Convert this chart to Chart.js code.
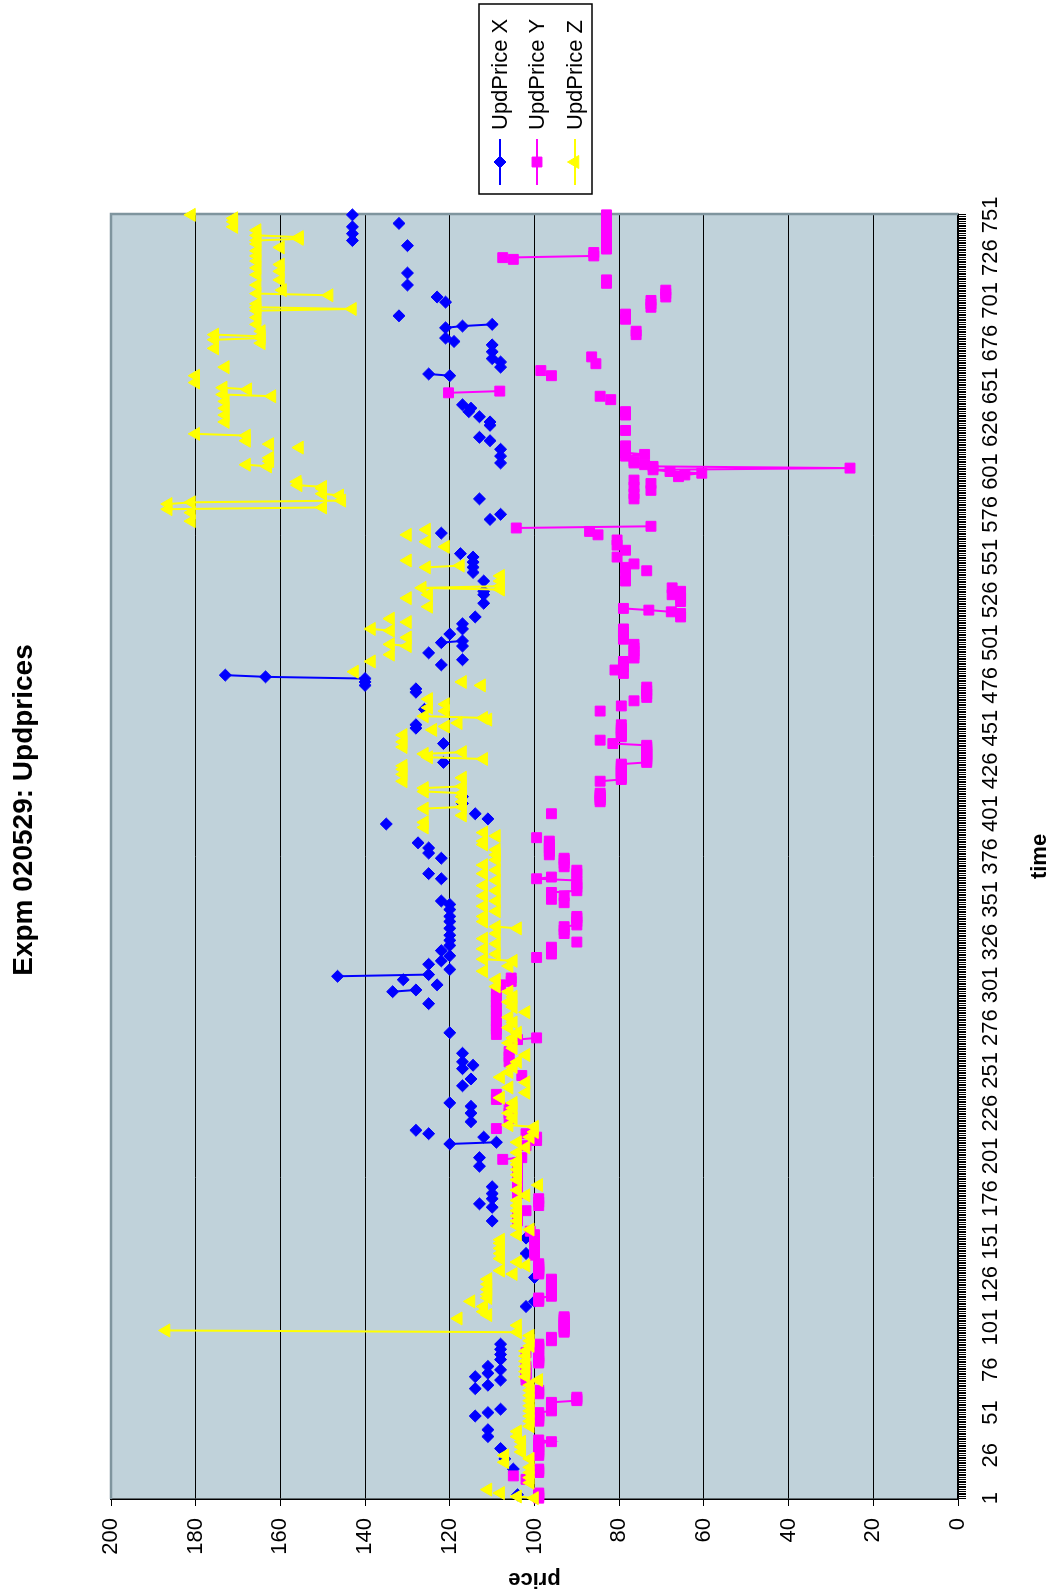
<!DOCTYPE html>
<html>
<head>
<meta charset="utf-8">
<title>Expm 020529: Updprices</title>
<script src="https://cdn.jsdelivr.net/npm/chart.js@4/dist/chart.umd.min.js"></script>
<style>
  html, body { margin: 0; padding: 0; background: #ffffff; overflow: hidden; width: 1057px; height: 1596px; }
  /* The chart is laid out landscape and turned a quarter turn counter-clockwise */
  #wrap { position: absolute; left: 0; top: 0; width: 1596px; height: 1057px;
          transform-origin: 0 0; transform: translate(0, 1596px) rotate(-90deg); }
  canvas { display: block; }
</style>
</head>
<body>
<div id="wrap"><canvas id="chart" width="1596" height="1057"></canvas></div>
<script>
// ---- data: [time step, updated price] ----
const timeTicks = [1,26,51,76,101,126,151,176,201,226,251,276,301,326,351,376,401,426,451,476,501,526,551,576,601,626,651,676,701,726,751];
const priceTicks = [0,20,40,60,80,100,120,140,160,180,200];

const updPriceX = [
[3,104],[18,105],[24,107],[30,108],[37,111],[41,111],[49,114],[51,111],[53,108],[65,114],[67,111],[70,108],[72,114],[74,111],[76,108],[78,111],[82,108],[85,108],[88,108],[91,108],
[113,102],[116,100],[130,100],[144,102],[153,102],[163,110],[171,110],[173,113],[176,110],[179,110],[183,110],[195,113],[200,113],[208,120],[209,109],[212,112],[214,125],[216,128],[221,115],[226,115],[230,115],[232,120],[242,117],[246,115],[252,117],[254,114.5],[256,117],[261,117],[273,120],[290,125],[297,133.5],[298,128],
[301,123],[304,131],[306,146.5],[307,125],[310,120],[313,125],[315,122],[318,120],[321,122],[324,120],[327,120],[330,120],[334,120],[338,120],[341,120],[345,120],[348,120],[350,122],[363,122],[366,125],[375,122],[378,125],[381,125],[384,127.5],[395,135],[398,111],
[401,114],[407,117],[411,117],[431,121.5],[442,121.5],[451,128],[453,128],[462,126],[472,128],[474,128],[476,140],[478,140],[480,140],[481,163.5],[482,173],[488,122],[491,117],[495,125],[499,117],
[501,122],[502,117],[506,120],[509,117],[512,117],[516,114],[524,112],[529,112],[531,112],[537,112],[542,114.5],[545,114.5],[548,114.5],[551,114.5],[553,117.5],[565,122],[573,110.5],[576,108],[585,113],
[606,108],[610,108],[614,108],[619,110.5],[621,113],[628,110.5],[630,110.5],[633,113],[636,115.5],[638,115],[640,117],[657,120],[658,125],[662,108],[665,108],[667,110],[671,110],[675,110],[677,119],[679,121],[685,121],[686,117],[687,110],[692,132],
[700,121],[703,123],[710,130],[717,130],[733,130],[736,143],[740,143],[744,143],[746,132],[751,143]
];

const updPriceY = [
[1,99],[2,99],[3,99],[4,99],[12,102],[14,105],[16,99],[17,99],[18,99],[26,99],[27,99],[28,99],[29,99],[31,99],[32,99],[33,99],[34,96],[35,99],[46,99],[47,99],[48,99],[49,99],[50,99],[51,99],[52,96],[53,96],[54,96],[55,96],[56,96],[57,96],[58,90],[59,90],[60,90],[62,99],[63,99],[64,99],
[70,102],[72,102],[74,102],[76,102],[78,102],[80,99],[81,99],[82,99],[83,99],[84,99],[86,102],[88,99],[89,99],[90,99],[91,99],[93,96],[94,96],[95,96],[98,93],[99,93],[100,93],[101,93],[102,93],[103,93],[104,93],[105,93],[106,93],[107,93],
[116,99],[117,99],[118,99],[119,96],[120,96],[121,96],[122,96],[123,96],[124,96],[125,96],[126,96],[127,96],[128,96],[129,96],[132,99],[133,99],[134,99],[135,99],[136,99],[137,99],[138,99],[143,100],[145,100],[147,100],[149,100],[151,100],[153,100],[155,100],[157,101],
[163,104],[166,104],[169,102],[172,99],[174,99],[176,99],[179,104],[182,104],[185,104],[188,104],[191,104],[194,104],[197,104],[199,107.5],[200,103],[207,102],[210,99.5],[212,99.5],[214,102],[217,109],[223,106],[226,106],[229,106],[234,109],[237,109],[248,103],[256,106],[259,106],[262,106],[269,104],[270,99.5],[272,109],[275,109],[277,109],[280,109],[283,109],[286,109],[289,109],[291,109],[294,109],[297,109],
[301,108],[303,105.5],[305,105.5],[317,99.5],[319,96],[321,96],[323,96],[326,90],[331,93],[333,93],[335,93],[336,90],[338,90],[340,90],[341,90],[349,93],[351,96],[353,93],[355,96],[356,90],[358,90],[360,90],[362,90],[363,99.5],[364,96],[366,90],[368,90],[370,93],[372,93],[374,93],[375,93],[377,96.5],[379,96.5],[381,96.5],[383,96.5],[385,96.5],[387,99.5],
[401,96],[408,84.5],[409,84.5],[410,84.5],[411,84.5],[412,84.5],[413,84.5],[420,84.5],[421,79.5],[422,79.5],[423,79.5],[424,79.5],[425,79.5],[426,79.5],[427,79.5],[428,79.5],[429,79.5],[430,79.5],[431,73.5],[432,73.5],[433,73.5],[434,73.5],[435,73.5],[436,73.5],[437,73.5],[438,73.5],[439,73.5],[440,73.5],[441,73.5],[442,81.5],[444,84.5],[446,79.5],[447,79.5],[448,79.5],[449,79.5],[450,79.5],[451,79.5],[453,79.5],[461,84.5],[464,79.5],[467,76.5],[469,73.5],[471,73.5],[473,73.5],[475,73.5],[483,79],[485,81],[487,79],[490,79],[492,76.5],[494,76.5],[496,76.5],[498,76.5],[500,76.5],
[503,79],[505,79],[507,79],[509,79],[516,65.5],[518,65.5],[519,67.7],[520,73],[521,79],[525,65.5],[527,65.5],[529,67.5],[531,65.5],[533,67.5],[537,78.5],[541,78.5],[543,73.5],[545,78.5],[547,76.5],[551,80.5],[555,78.5],[558,80.5],[561,80.5],[564,85],[566,87],[568,104.3],[569,72.5],[585,76.5],[588,76.5],[590,72.5],[592,76.5],[594,72.5],[596,76.5],[598,66],[599,64.5],[600,60.5],
[601,68],[602,72],[603,25.5],[604,72],[605,74],[606,76.5],[607,76.5],[610,78.5],[611,74],[612,78.5],[614,78.5],[616,78.5],[625,78.5],[634,78.5],[636,78.5],[643,82],[645,84.5],[647,120.3],[648,108.2],[657,96],[660,98.5],[664,85.5],[668,86.5],[681,76],[683,76],[690,78.5],[693,78.5],[697,72.5],[699,72.5],
[701,72.5],[703,69],[705,69],[707,69],[711,83],[713,83],[725,105],[726,107.5],[727,86],[729,86],[731,83],[733,83],[736,83],[738,83],[740,83],[745,83],[747,83],[749,83],[751,83]
];

const updPriceZ = [
[1,100],[2,104],[4,108],[6,111],[10,101],[13,101],[16,101],[19,101],[22,107],[24,101],[26,107],[28,103],[31,103],[34,103],[37,104],[40,104],[43,101],[46,101],[49,101],[52,101],[55,101],[58,101],[61,101],[64,101],[67,101],[70,99],[72,102],[75,102],[78,102],[81,102],[84,102],[87,102],[90,101],[93,101],[96,101],[98,104],[99,187],
[102,104],[106,118],[108,111],[110,112],[113,112],[116,115],[118,111],[120,111],[123,111],[126,111],[129,111],[132,105],[134,108],[137,102],[139,104],[141,108],[144,108],[147,108],[150,108],[152,108],[155,104],[158,101],[160,104],[163,104],[166,104],[169,104],[172,104],[175,104],[178,102],[181,104],[184,99],[187,104],[190,104],[193,104],[196,104],[198,104],
[203,104],[206,102],[209,104],[212,101],[215,100],[218,100],[219,106],[223,105],[226,106],[229,105],[232,105],[235,108],[238,102],[241,106],[244,102],[247,108],[250,106],[253,105],[256,104],[260,102],[264,105],[267,106],[270,105],[273,104],[276,106],[279,105],[282,106],[285,102],[288,105],[291,106],[294,105],[297,106],[300,109],
[304,109],[309,112],[312,106],[315,105],[316,112],[319,109],[322,112],[325,109],[328,112],[331,109],[334,104],[335,109],[338,112],[341,112],[344,109],[347,112],[350,109],[353,112],[356,109],[359,112],[362,109],[366,112],[368,109],[371,112],[374,109],[377,109],[380,109],[383,112],[385,112],[388,109],[390,112],[393,126],[396,126],
[400,117],[404,126],[405,117],[408,117],[411,117],[413,117],[414,126],[416,126],[417,117],[420,131],[422,117],[424,131],[427,131],[429,131],[433,112],[434,125],[436,126],[437,117],[440,131],[443,131],[447,131],[450,124],[452,121],[454,118],[456,111],[457,112],[458,126],[461,121],[463,125],[465,121],[468,125],[476,112.5],[478,117],[484,142.5],[490,138.5],[494,134],[499,130],[500,134],
[504,130],[508,134],[509,138.5],[513,130],[515,134],[522,125],[527,130],[529,125],[532,108],[533,126.5],[534,108],[537,108],[540,108],[545,125.5],[546,117.5],[549,130],[557,121],[560,125.5],[564,130],[567,125.5],[572,181],[577,181],[579,186.5],[580,150],[582,186.5],[583,181],[584,145.5],[587,146],[588,150],[591,150],[592,150],[593,155.8],[595,156],
[604,163],[605,168],[607,162.5],[609,162.5],[615,155.5],[617,162.5],[619,168],[622,168],[623,180],[630,173],[634,173],[638,173],[642,173],[645,162],[646,173.5],[649,167.7],[650,173.5],[653,180],[657,180],[662,173],[673,175.5],[676,164.5],[678,175.5],[679,164.5],[680,164.5],[681,175.5],[683,164.5],[687,165.5],[691,165.5],[695,165.5],[696,143],[697,165.5],[699,165.5],
[704,148.5],[705,165.5],[707,159.5],[710,165.5],[713,160],[716,165.5],[718,160],[720,165.5],[722,160],[724,165.5],[727,165.5],[730,165.5],[732,160],[734,165.5],[736,165.5],[737,155.5],[738,155.5],[739,165.5],[742,165.5],[744,171],[747,171],[749,171],[751,181]
];

const TIME_STEPS = 751;
const FONT = "'Liberation Sans', Arial, Helvetica, sans-serif";

// One slot per time step; steps without an update stay empty so the line breaks there.
function toSeries(pairs) {
  const byTime = new Map(pairs.map(([t, p]) => [t, p]));
  const out = [];
  for (let t = 1; t <= TIME_STEPS; t++) {
    out.push({ x: t, y: byTime.has(t) ? byTime.get(t) : null });
  }
  return out;
}

const seriesStyle = [
  { label: 'UpdPrice X', data: updPriceX, color: '#0000FF', pointStyle: 'rectRot',  radius: 6 },
  { label: 'UpdPrice Y', data: updPriceY, color: '#FF00FF', pointStyle: 'rect',     radius: 7 },
  { label: 'UpdPrice Z', data: updPriceZ, color: '#FFFF00', pointStyle: 'triangle', radius: 7.5 }
];

Chart.defaults.font.family = FONT;
Chart.defaults.font.size = 22;
Chart.defaults.color = '#000000';

const plotBackground = {
  id: 'plotBackground',
  beforeDraw(chart) {
    const { ctx, chartArea: a } = chart;
    ctx.save();
    ctx.fillStyle = '#ffffff';
    ctx.fillRect(0, 0, chart.width, chart.height);
    ctx.fillStyle = '#C0D2DA';
    ctx.fillRect(a.left, a.top, a.right - a.left, a.bottom - a.top);
    ctx.restore();
  },
  beforeDatasetsDraw(chart) {
    const { ctx, chartArea: a } = chart;
    ctx.save();
    ctx.strokeStyle = '#7F959E';
    ctx.lineWidth = 2.5;
    ctx.beginPath();
    ctx.moveTo(a.left, a.top);
    ctx.lineTo(a.right, a.top);
    ctx.lineTo(a.right, a.bottom);
    ctx.stroke();
    ctx.restore();
  }
};

const titleAndLegend = {
  id: 'titleAndLegend',
  afterDraw(chart) {
    const ctx = chart.ctx;
    ctx.save();
    // chart title
    ctx.fillStyle = '#000000';
    ctx.font = 'bold 28px ' + FONT;
    ctx.textAlign = 'center';
    ctx.textBaseline = 'alphabetic';
    ctx.fillText('Expm 020529: Updprices', 786, 32);

    // legend box
    const box = { x: 1402, y: 479, w: 190, h: 113 };
    ctx.fillStyle = '#ffffff';
    ctx.fillRect(box.x, box.y, box.w, box.h);
    ctx.strokeStyle = '#000000';
    ctx.lineWidth = 1.5;
    ctx.strokeRect(box.x, box.y, box.w, box.h);
    const rows = [500, 537, 575];
    seriesStyle.forEach((s, i) => {
      const y = rows[i];
      ctx.strokeStyle = s.color;
      ctx.lineWidth = 2;
      ctx.beginPath();
      ctx.moveTo(1411, y);
      ctx.lineTo(1457, y);
      ctx.stroke();
      ctx.fillStyle = s.color;
      ctx.strokeStyle = s.color;
      ctx.lineWidth = 1;
      Chart.helpers.drawPoint(ctx, { pointStyle: s.pointStyle, rotation: 0, radius: s.radius, borderWidth: 1 }, 1434, y);
      ctx.fillStyle = '#000000';
      ctx.font = '22px ' + FONT;
      ctx.textAlign = 'left';
      ctx.textBaseline = 'middle';
      ctx.fillText(s.label, 1466, y + 1);
    });
    ctx.restore();
  }
};

new Chart(document.getElementById('chart'), {
  type: 'line',
  data: {
    datasets: seriesStyle.map((s, i) => ({
      label: s.label,
      data: toSeries(s.data),
      borderColor: s.color,
      backgroundColor: s.color,
      borderWidth: 2,
      pointStyle: s.pointStyle,
      pointRadius: s.radius,
      pointHoverRadius: s.radius,
      pointBackgroundColor: s.color,
      pointBorderColor: s.color,
      pointBorderWidth: 1,
      spanGaps: false,
      tension: 0,
      clip: false,
      order: 2 - i
    }))
  },
  options: {
    responsive: false,
    maintainAspectRatio: false,
    animation: false,
    devicePixelRatio: 1,
    events: [],
    layout: { padding: { left: 0, right: 214, top: 111, bottom: 0 } },
    plugins: { legend: { display: false }, title: { display: false }, tooltip: { enabled: false } },
    scales: {
      x: {
        type: 'linear',
        position: 'bottom',
        min: 0.5,
        max: TIME_STEPS + 0.5,
        afterBuildTicks(scale) {
          const ticks = [];
          for (let t = 1; t <= TIME_STEPS; t++) ticks.push({ value: t });
          scale.ticks = ticks;
        },
        afterFit(scale) { scale.height = 99; },
        ticks: {
          autoSkip: false,
          maxRotation: 0,
          minRotation: 0,
          padding: 12,
          color: '#000000',
          font: { size: 22 },
          callback: (v) => timeTicks.includes(v) ? String(v) : ''
        },
        grid: { drawOnChartArea: false, drawTicks: true, tickLength: 8, color: '#000000', lineWidth: 1 },
        border: { display: true, color: '#000000', width: 1.5 },
        title: { display: true, text: 'time', color: '#000000', font: { size: 22, weight: 'bold' }, padding: { top: 0, bottom: 4 } }
      },
      y: {
        type: 'linear',
        position: 'left',
        min: 0,
        max: 200,
        afterBuildTicks(scale) { scale.ticks = priceTicks.map(v => ({ value: v })); },
        afterFit(scale) { scale.width = 97; },
        ticks: { padding: 12, color: '#000000', font: { size: 22 } },
        grid: { color: '#000000', lineWidth: 1, tickLength: 7, drawTicks: true },
        border: { display: true, color: '#000000', width: 1.5 },
        title: { display: true, text: 'price', color: '#000000', font: { size: 22, weight: 'bold' }, padding: { top: 4, bottom: 0 } }
      }
    }
  },
  plugins: [plotBackground, titleAndLegend]
});
</script>
</body>
</html>
